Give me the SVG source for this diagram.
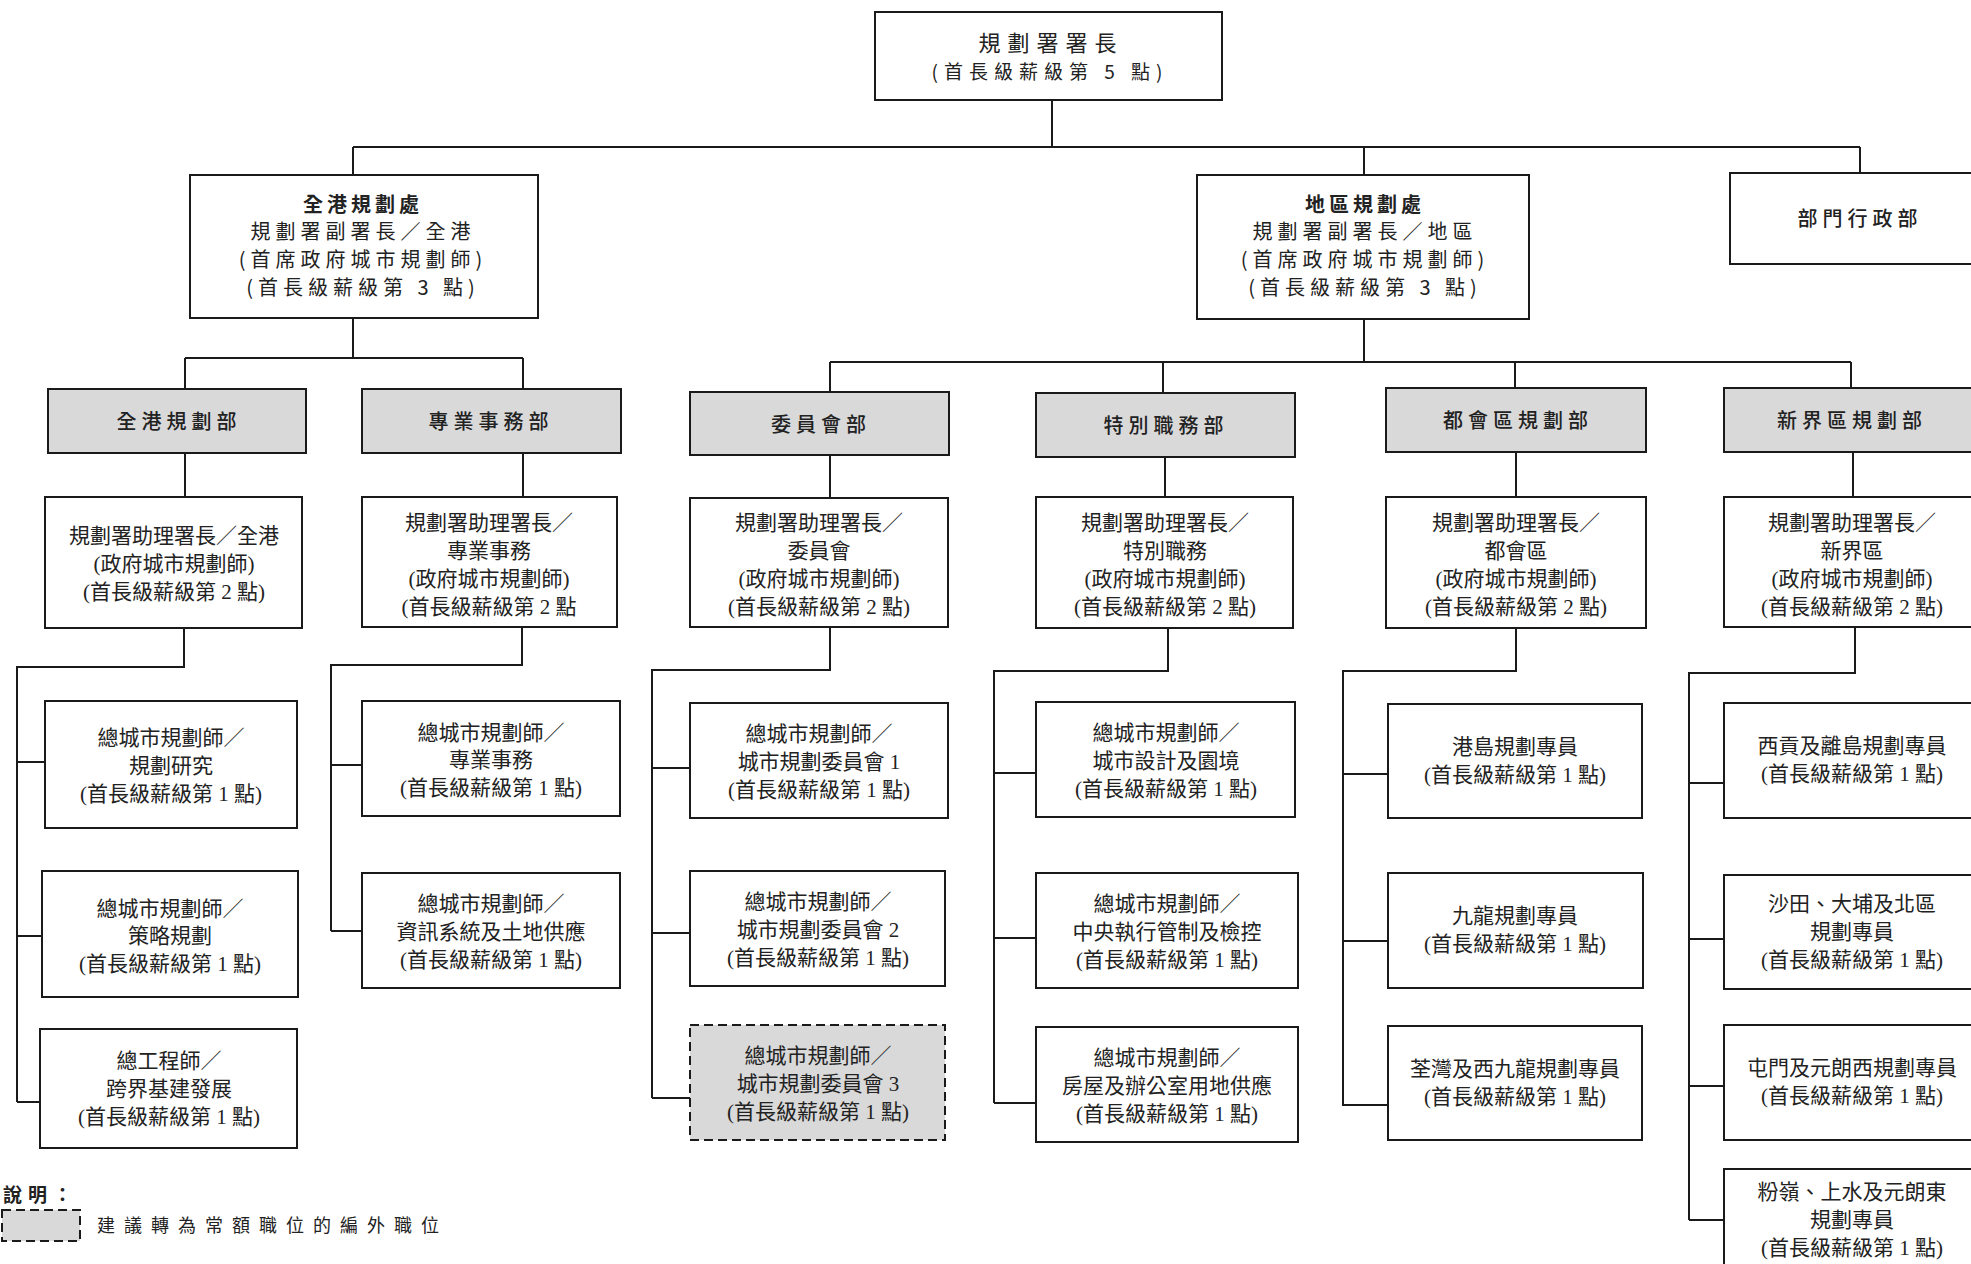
<svg xmlns="http://www.w3.org/2000/svg" width="1971" height="1264" viewBox="0 0 1971 1264">
<style>
.bg{fill:#fff}
.bx{fill:#fff;stroke:#1a1a1a;stroke-width:2}
.gr{fill:#d9d9d9;stroke:#1a1a1a;stroke-width:2}
.dh{fill:#d9d9d9;stroke:#1a1a1a;stroke-width:2;stroke-dasharray:9 5}
.cn path{fill:none;stroke:#1a1a1a;stroke-width:2}
.t{font-family:"Liberation Serif","Noto Sans CJK TC",serif;font-size:21px;fill:#222;text-anchor:middle}
.hd{font-family:"Noto Sans CJK TC","Noto Sans",sans-serif;font-size:20px;fill:#222;text-anchor:middle;letter-spacing:5px}
.b{font-weight:bold}
.m{font-weight:500}
.lg{font-family:"Noto Sans CJK TC","Noto Sans",sans-serif;font-size:18px;fill:#222;letter-spacing:9px}
</style>
<rect class="bg" x="0" y="0" width="1971" height="1264"/>

<g id="connectors" class="cn">
<path d="M1052,100 V147 M353,147 H1860 M353,147 V175 M1364,147 V175 M1860,147 V173"/>
<path d="M353,318 V358 M185,358 H523 M185,358 V389 M523,358 V389"/>
<path d="M1364,319 V362 M830,362 H1851 M830,362 V392 M1163,362 V393 M1515,362 V388 M1851,362 V388"/>
<path d="M185,453 V497 M523,453 V497 M830,455 V498 M1165,457 V497 M1516,452 V497 M1853,452 V497"/>
<path d="M184,628 V667 H17 V1102 M17,762 H45 M17,936 H42 M17,1102 H40"/>
<path d="M522,627 V665 H331 V931 M331,765 H362 M331,931 H362"/>
<path d="M830,627 V670 H652 V1098 M652,768 H690 M652,933 H690 M652,1098 H690"/>
<path d="M1168,628 V671 H994 V1103 M994,773 H1036 M994,938 H1036 M994,1103 H1036"/>
<path d="M1516,628 V671 H1343 V1106 M1343,774 H1388 M1343,941 H1388 M1343,1105 H1388"/>
<path d="M1855,627 V673 H1689 V1220 M1689,783 H1724 M1689,939 H1724 M1689,1086 H1724 M1689,1220 H1724"/>
</g>

<g id="n-director">
<rect class="bx" x="875" y="12" width="347" height="88"/>
<text class="hd" x="1051" y="51" style="font-size:22px;letter-spacing:7px">規劃署署長</text>
<text class="hd" x="1050" y="79" style="font-size:19px;letter-spacing:6px">(首長級薪級第 5 點)</text>
</g>

<g id="n-territorial">
<rect class="bx" x="190" y="175" width="348" height="143"/>
<text class="hd b" x="363" y="212" style="letter-spacing:4px">全港規劃處</text>
<text class="hd" x="363" y="239">規劃署副署長／全港</text>
<text class="hd" x="363" y="267">(首席政府城市規劃師)</text>
<text class="hd" x="363" y="295">(首長級薪級第 3 點)</text>
</g>

<g id="n-district">
<rect class="bx" x="1197" y="175" width="332" height="144"/>
<text class="hd b" x="1365" y="212" style="letter-spacing:4px">地區規劃處</text>
<text class="hd" x="1365" y="239">規劃署副署長／地區</text>
<text class="hd" x="1365" y="267">(首席政府城市規劃師)</text>
<text class="hd" x="1365" y="295">(首長級薪級第 3 點)</text>
</g>

<g id="n-admin">
<rect class="bx" x="1730" y="173" width="262" height="91"/>
<text class="hd m" x="1860" y="226">部門行政部</text>
</g>

<g id="g-territorial">
<rect class="gr" x="48" y="389" width="258" height="64"/>
<text class="hd m" x="179" y="429">全港規劃部</text>
</g>
<g id="g-special">
<rect class="gr" x="362" y="389" width="259" height="64"/>
<text class="hd m" x="491" y="429">專業事務部</text>
</g>
<g id="g-board">
<rect class="gr" x="690" y="392" width="259" height="63"/>
<text class="hd m" x="821" y="432">委員會部</text>
</g>
<g id="g-duties">
<rect class="gr" x="1036" y="393" width="259" height="64"/>
<text class="hd m" x="1166" y="433">特別職務部</text>
</g>
<g id="g-metro">
<rect class="gr" x="1386" y="388" width="260" height="64"/>
<text class="hd m" x="1518" y="428">都會區規劃部</text>
</g>
<g id="g-nt">
<rect class="gr" x="1724" y="388" width="266" height="64"/>
<text class="hd m" x="1852" y="428">新界區規劃部</text>
</g>

<g id="a-territorial">
<rect class="bx" x="45" y="497" width="257" height="131"/>
<text class="t" x="174" y="543">規劃署助理署長／全港</text>
<text class="t" x="174" y="571">(政府城市規劃師)</text>
<text class="t" x="174" y="599">(首長級薪級第 2 點)</text>
</g>
<g id="a-special">
<rect class="bx" x="362" y="497" width="255" height="130"/>
<text class="t" x="489" y="530">規劃署助理署長／</text>
<text class="t" x="489" y="558">專業事務</text>
<text class="t" x="489" y="586">(政府城市規劃師)</text>
<text class="t" x="489" y="614">(首長級薪級第 2 點</text>
</g>
<g id="a-board">
<rect class="bx" x="690" y="498" width="258" height="129"/>
<text class="t" x="819" y="530">規劃署助理署長／</text>
<text class="t" x="819" y="558">委員會</text>
<text class="t" x="819" y="586">(政府城市規劃師)</text>
<text class="t" x="819" y="614">(首長級薪級第 2 點)</text>
</g>
<g id="a-duties">
<rect class="bx" x="1036" y="497" width="257" height="131"/>
<text class="t" x="1165" y="530">規劃署助理署長／</text>
<text class="t" x="1165" y="558">特別職務</text>
<text class="t" x="1165" y="586">(政府城市規劃師)</text>
<text class="t" x="1165" y="614">(首長級薪級第 2 點)</text>
</g>
<g id="a-metro">
<rect class="bx" x="1386" y="497" width="260" height="131"/>
<text class="t" x="1516" y="530">規劃署助理署長／</text>
<text class="t" x="1516" y="558">都會區</text>
<text class="t" x="1516" y="586">(政府城市規劃師)</text>
<text class="t" x="1516" y="614">(首長級薪級第 2 點)</text>
</g>
<g id="a-nt">
<rect class="bx" x="1724" y="497" width="266" height="130"/>
<text class="t" x="1852" y="530">規劃署助理署長／</text>
<text class="t" x="1852" y="558">新界區</text>
<text class="t" x="1852" y="586">(政府城市規劃師)</text>
<text class="t" x="1852" y="614">(首長級薪級第 2 點)</text>
</g>

<g id="b-research">
<rect class="bx" x="45" y="701" width="252" height="127"/>
<text class="t" x="171" y="745">總城市規劃師／</text>
<text class="t" x="171" y="773">規劃研究</text>
<text class="t" x="171" y="801">(首長級薪級第 1 點)</text>
</g>
<g id="b-strategic">
<rect class="bx" x="42" y="871" width="256" height="126"/>
<text class="t" x="170" y="916">總城市規劃師／</text>
<text class="t" x="170" y="943">策略規劃</text>
<text class="t" x="170" y="971">(首長級薪級第 1 點)</text>
</g>
<g id="b-crossborder">
<rect class="bx" x="40" y="1029" width="257" height="119"/>
<text class="t" x="169" y="1068">總工程師／</text>
<text class="t" x="169" y="1096">跨界基建發展</text>
<text class="t" x="169" y="1124">(首長級薪級第 1 點)</text>
</g>

<g id="c-special">
<rect class="bx" x="362" y="701" width="258" height="115"/>
<text class="t" x="491" y="740">總城市規劃師／</text>
<text class="t" x="491" y="767">專業事務</text>
<text class="t" x="491" y="795">(首長級薪級第 1 點)</text>
</g>
<g id="c-info">
<rect class="bx" x="362" y="873" width="258" height="115"/>
<text class="t" x="491" y="911">總城市規劃師／</text>
<text class="t" x="491" y="939">資訊系統及土地供應</text>
<text class="t" x="491" y="967">(首長級薪級第 1 點)</text>
</g>

<g id="d-tpb1">
<rect class="bx" x="690" y="703" width="258" height="115"/>
<text class="t" x="819" y="741">總城市規劃師／</text>
<text class="t" x="819" y="769">城市規劃委員會 1</text>
<text class="t" x="819" y="797">(首長級薪級第 1 點)</text>
</g>
<g id="d-tpb2">
<rect class="bx" x="690" y="871" width="255" height="115"/>
<text class="t" x="818" y="909">總城市規劃師／</text>
<text class="t" x="818" y="937">城市規劃委員會 2</text>
<text class="t" x="818" y="965">(首長級薪級第 1 點)</text>
</g>
<g id="d-tpb3">
<rect class="dh" x="690" y="1025" width="255" height="115"/>
<text class="t" x="818" y="1063">總城市規劃師／</text>
<text class="t" x="818" y="1091">城市規劃委員會 3</text>
<text class="t" x="818" y="1119">(首長級薪級第 1 點)</text>
</g>

<g id="e-design">
<rect class="bx" x="1036" y="702" width="259" height="115"/>
<text class="t" x="1166" y="740">總城市規劃師／</text>
<text class="t" x="1166" y="768">城市設計及園境</text>
<text class="t" x="1166" y="796">(首長級薪級第 1 點)</text>
</g>
<g id="e-enforcement">
<rect class="bx" x="1036" y="873" width="262" height="115"/>
<text class="t" x="1167" y="911">總城市規劃師／</text>
<text class="t" x="1167" y="939">中央執行管制及檢控</text>
<text class="t" x="1167" y="967">(首長級薪級第 1 點)</text>
</g>
<g id="e-housing">
<rect class="bx" x="1036" y="1027" width="262" height="115"/>
<text class="t" x="1167" y="1065">總城市規劃師／</text>
<text class="t" x="1167" y="1093">房屋及辦公室用地供應</text>
<text class="t" x="1167" y="1121">(首長級薪級第 1 點)</text>
</g>

<g id="f-hk">
<rect class="bx" x="1388" y="704" width="254" height="114"/>
<text class="t" x="1515" y="754">港島規劃專員</text>
<text class="t" x="1515" y="782">(首長級薪級第 1 點)</text>
</g>
<g id="f-kln">
<rect class="bx" x="1388" y="873" width="255" height="115"/>
<text class="t" x="1515" y="923">九龍規劃專員</text>
<text class="t" x="1515" y="951">(首長級薪級第 1 點)</text>
</g>
<g id="f-tw">
<rect class="bx" x="1388" y="1026" width="254" height="114"/>
<text class="t" x="1515" y="1076">荃灣及西九龍規劃專員</text>
<text class="t" x="1515" y="1104">(首長級薪級第 1 點)</text>
</g>

<g id="h-sk">
<rect class="bx" x="1724" y="703" width="266" height="115"/>
<text class="t" x="1852" y="753">西貢及離島規劃專員</text>
<text class="t" x="1852" y="781">(首長級薪級第 1 點)</text>
</g>
<g id="h-st">
<rect class="bx" x="1724" y="875" width="266" height="114"/>
<text class="t" x="1852" y="911">沙田、大埔及北區</text>
<text class="t" x="1852" y="939">規劃專員</text>
<text class="t" x="1852" y="967">(首長級薪級第 1 點)</text>
</g>
<g id="h-tm">
<rect class="bx" x="1724" y="1025" width="266" height="115"/>
<text class="t" x="1852" y="1075">屯門及元朗西規劃專員</text>
<text class="t" x="1852" y="1103">(首長級薪級第 1 點)</text>
</g>
<g id="h-fl">
<rect class="bx" x="1724" y="1169" width="266" height="120"/>
<text class="t" x="1852" y="1199">粉嶺、上水及元朗東</text>
<text class="t" x="1852" y="1227">規劃專員</text>
<text class="t" x="1852" y="1255">(首長級薪級第 1 點)</text>
</g>

<g id="legend">
<text class="lg b" x="3" y="1202" style="font-size:19px;letter-spacing:6px">說明：</text>
<rect class="dh" x="2" y="1210" width="78" height="31"/>
<text class="lg" x="97" y="1232">建議轉為常額職位的編外職位</text>
</g>
</svg>
